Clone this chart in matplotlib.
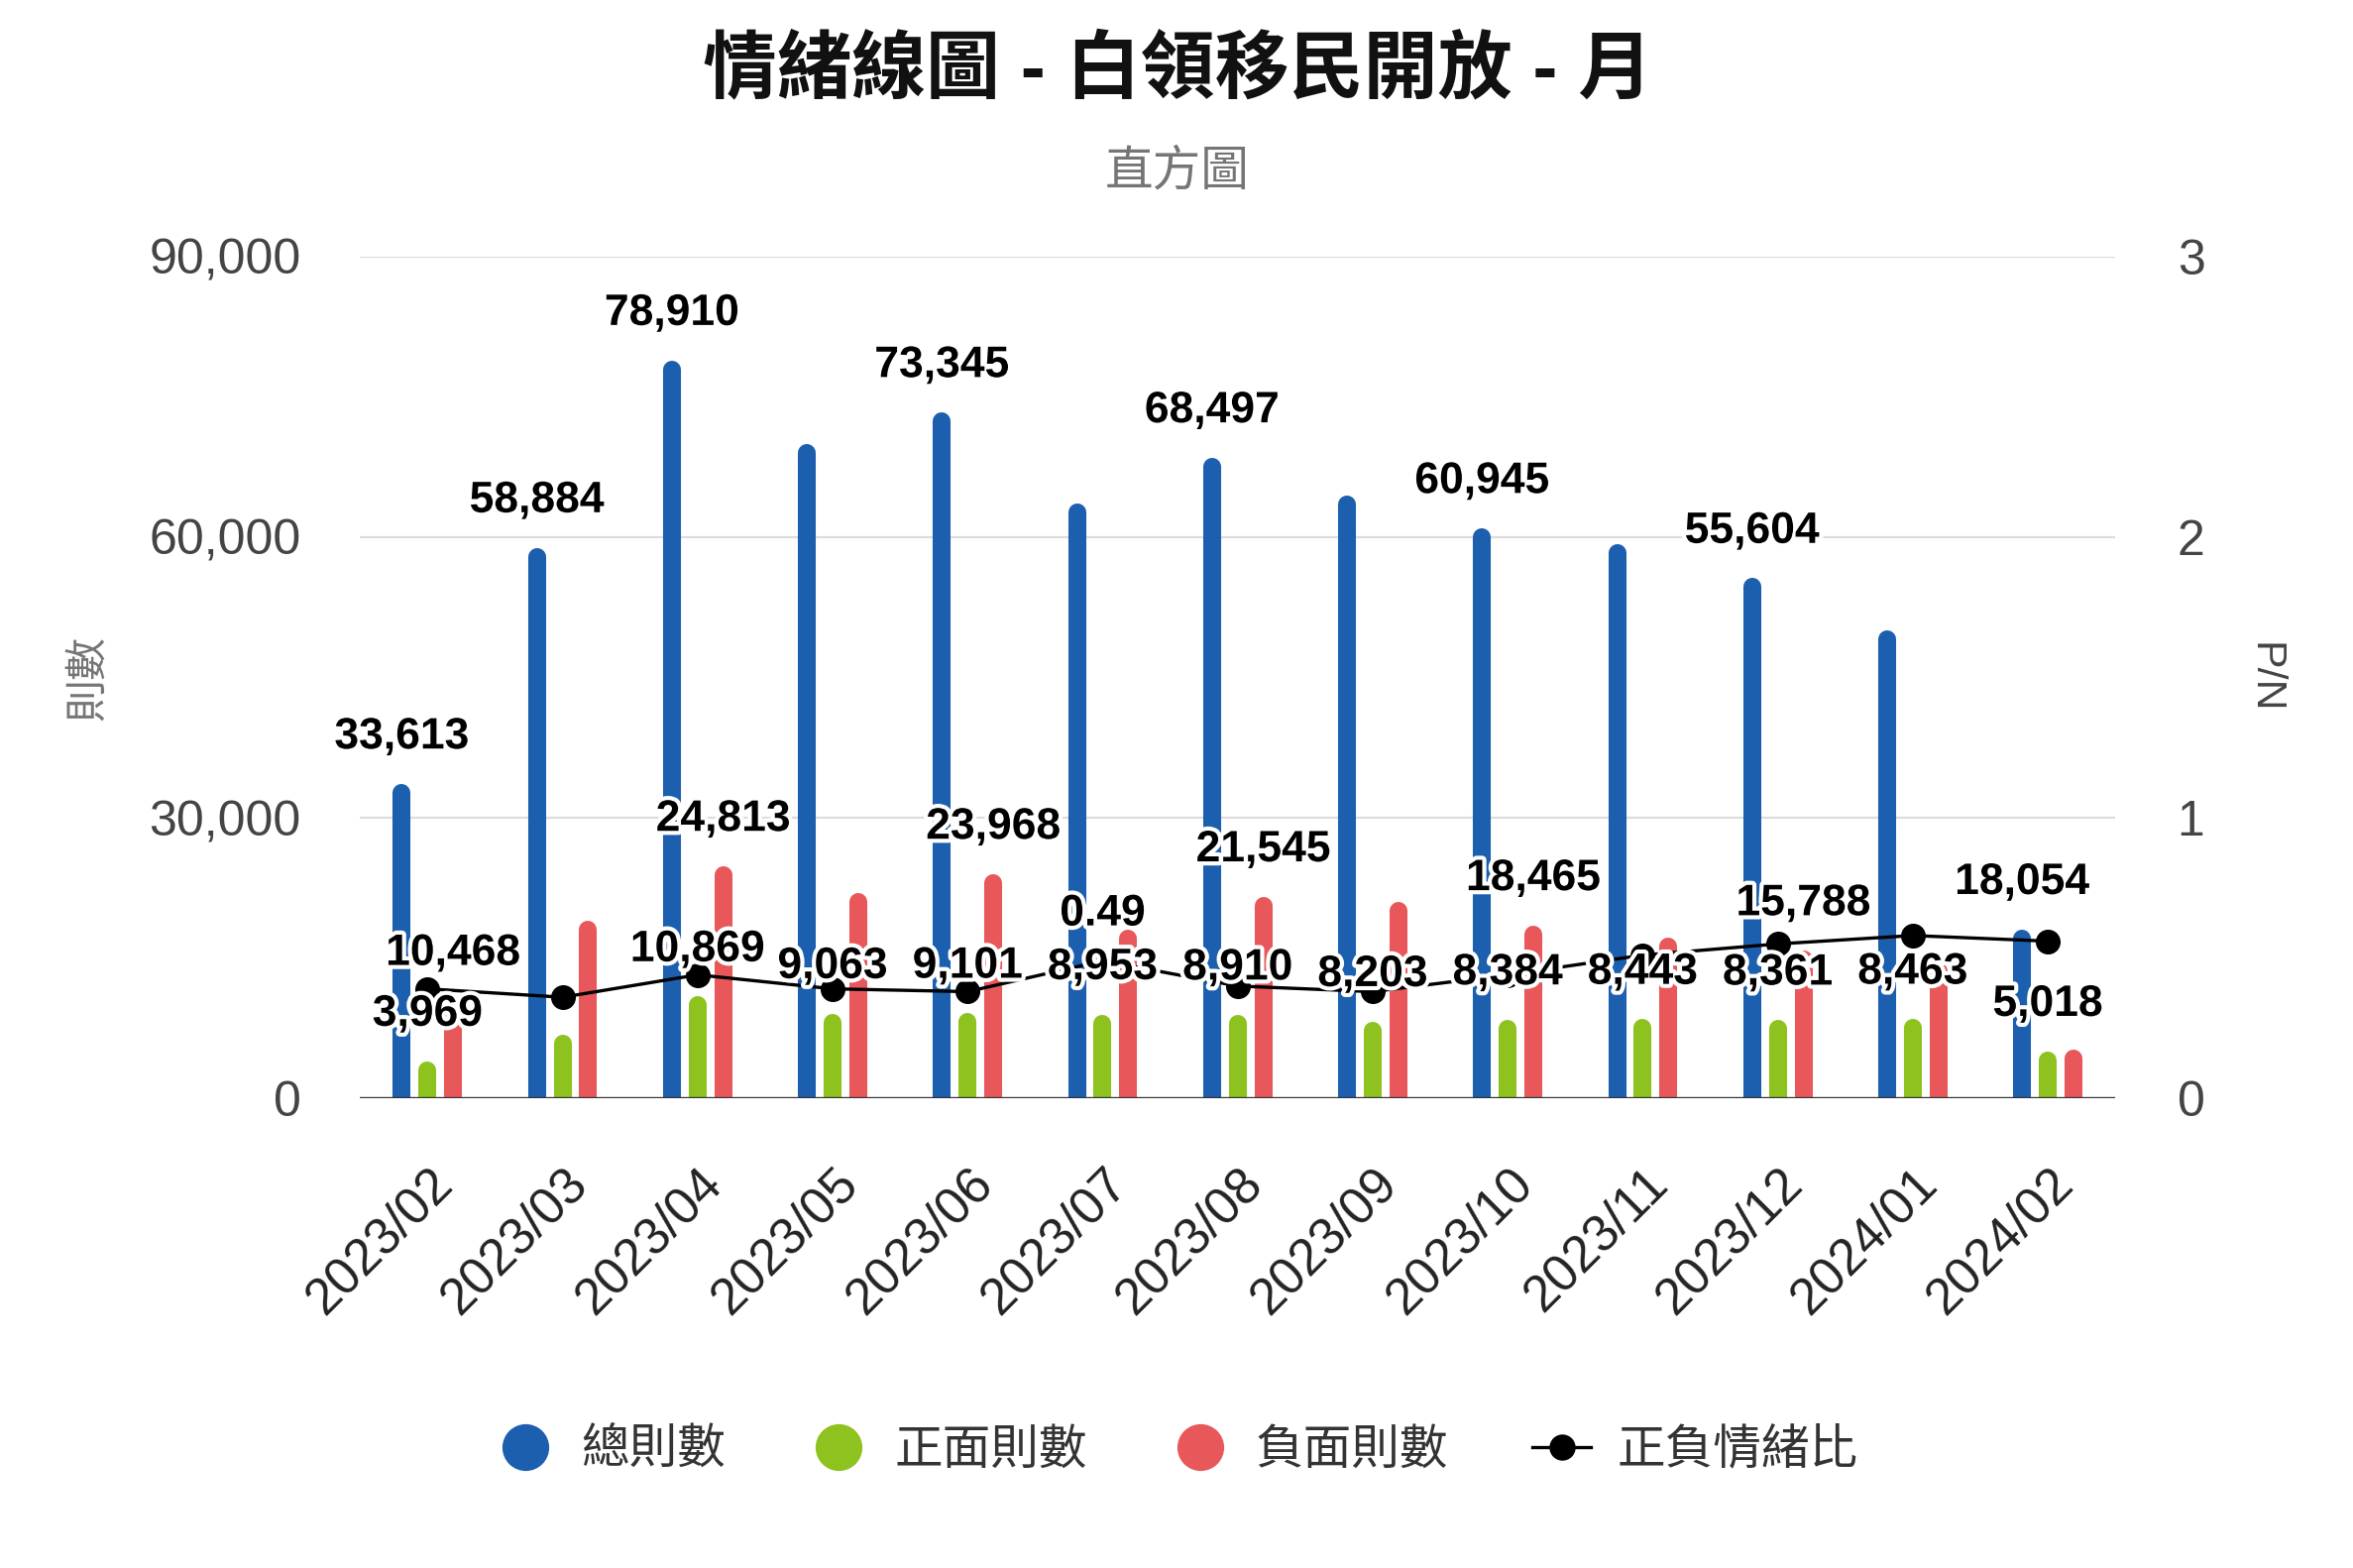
import matplotlib
matplotlib.use('Agg')
import matplotlib.pyplot as plt
import matplotlib.patheffects as pe
from matplotlib.lines import Line2D
from matplotlib.transforms import ScaledTranslation
import numpy as np

plt.rcParams['font.family'] = ['Liberation Sans', 'Noto Sans CJK TC', 'DejaVu Sans']

# datos
months = ['2023/02', '2023/03', '2023/04', '2023/05', '2023/06', '2023/07', '2023/08',
          '2023/09', '2023/10', '2023/11', '2023/12', '2024/01', '2024/02']
total = [33613, 58884, 78910, 70000, 73345, 63600, 68497, 64400, 60945, 59300, 55604, 50000, 18054]
positive = [3969, 6800, 10869, 9063, 9101, 8953, 8910, 8203, 8384, 8443, 8361, 8463, 5018]
negative = [10468, 18950, 24813, 21900, 23968, 18000, 21545, 21000, 18465, 17200, 15788, 14500, 5200]
ratio = [0.39, 0.36, 0.44, 0.39, 0.38, 0.49, 0.40, 0.38, 0.44, 0.51, 0.55, 0.58, 0.56]

# que etiquetas se ven en el grafico original
show_total = [1, 1, 1, 0, 1, 0, 1, 0, 1, 0, 1, 0, 1]
show_neg = [1, 0, 1, 0, 1, 0, 1, 0, 1, 0, 1, 0, 0]
show_pos = [1, 0, 1, 1, 1, 1, 1, 1, 1, 1, 1, 1, 1]
show_ratio = [0, 0, 0, 0, 0, 1, 0, 0, 0, 0, 0, 0, 0]

series_names = ['總則數', '正面則數', '負面則數', '正負情緒比']
blue, green, red = '#1c5faf', '#8dc21f', '#e8585a'

fig = plt.figure(figsize=(23.74, 15.82), dpi=100)
ax = fig.add_axes([0.153, 0.2996, 0.746, 0.5367])
ax2 = ax.twinx()

x = np.arange(len(months))
off = 0.19
# barras redondeadas: lineas gruesas con punta redonda, corridas hacia abajo el radio de la punta
shift = ScaledTranslation(0, -9 / 100, fig.dpi_scale_trans)
for dx, vals, col in [(-off, total, blue), (0, positive, green), (off, negative, red)]:
    ax.vlines(x + dx, 0, vals, colors=col, linewidth=13, capstyle='round',
              transform=ax.transData + shift, zorder=2)

ax.set_xlim(-0.5, len(months) - 0.5)
ax.set_ylim(0, 90000)
ax.set_yticks([0, 30000, 60000, 90000])
ax.set_yticklabels(['{:,}'.format(v) for v in [0, 30000, 60000, 90000]])
ax.grid(axis='y', color='#dcdcdc', linewidth=1.6)
ax.set_axisbelow(True)
ax.axhline(0, color='#333333', linewidth=2.4, zorder=4)
ax.tick_params(axis='y', length=0, pad=43, labelsize=36, labelcolor='#444444')
ax.set_xticks(x)
ax.set_xticklabels(months, rotation=45, ha='right', rotation_mode='anchor')
ax.tick_params(axis='x', length=0, pad=44, labelsize=37, labelcolor='#222222')
ax.set_ylabel('則數', fontsize=31, color='#757575')
ax.yaxis.set_label_coords(-0.143, 0.5)

ax2.plot(x, ratio, color='black', linewidth=2.4, marker='o', markersize=17, zorder=3)
ax2.set_ylim(0, 3)
ax2.set_yticks([0, 1, 2, 3])
ax2.tick_params(axis='y', length=0, pad=45, labelsize=36, labelcolor='#444444')
ax2.set_ylabel('P/N', fontsize=31, color='#444444', rotation=-90, va='center')
ax2.yaxis.set_label_coords(1.085, 0.5)

for a in (ax, ax2):
    for s in a.spines.values():
        s.set_visible(False)

halo = [pe.withStroke(linewidth=6, foreground='white')]


def etiquetas(vals, mask, dx, fmt, coords):
    for i, v in enumerate(vals):
        if mask[i]:
            ax2.annotate(fmt(v), xy=(x[i] + dx, v), xycoords=coords,
                         xytext=(0, 34), textcoords='offset points',
                         ha='center', va='center', fontsize=32, fontweight='bold',
                         color='black', path_effects=halo, zorder=6)


etiquetas(total, show_total, -off, lambda v: '{:,}'.format(v), ax.transData)
etiquetas(negative, show_neg, off, lambda v: '{:,}'.format(v), ax.transData)
etiquetas(positive, show_pos, 0, lambda v: '{:,}'.format(v), ax.transData)
etiquetas(ratio, show_ratio, 0, lambda v: '{:.2f}'.format(v), ax2.transData)

fig.text(0.5004, 1 - 71 / 1582, '情緒線圖 - 白領移民開放 - 月', ha='center', va='center',
         fontsize=54, fontweight='bold', color='#111111')
fig.text(0.5004, 1 - 174 / 1582, '直方圖', ha='center', va='center',
         fontsize=35, color='#757575')

handles = [
    Line2D([], [], linestyle='none', marker='o', markersize=33, color=blue),
    Line2D([], [], linestyle='none', marker='o', markersize=33, color=green),
    Line2D([], [], linestyle='none', marker='o', markersize=33, color=red),
    Line2D([], [], color='black', linewidth=2.4, marker='o', markersize=18),
]
leg = fig.legend(handles, series_names, loc='center', bbox_to_anchor=(0.5004, 1 - 1464 / 1582),
                 ncol=4, frameon=False, fontsize=35, handlelength=1.2, handletextpad=0.55,
                 columnspacing=1.75)
for t in leg.get_texts():
    t.set_color('#333333')

fig.savefig('out.png', dpi=100)
